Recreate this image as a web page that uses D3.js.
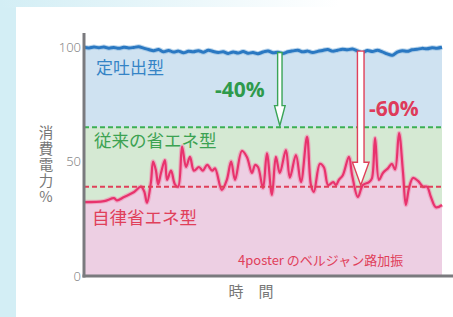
<!DOCTYPE html>
<html>
<head>
<meta charset="utf-8">
<script src="https://cdn.jsdelivr.net/npm/d3@7"></script>
<style>
  body { margin: 0; }
  svg { display: block; }
</style>
</head>
<body>
<svg id="chart" width="453" height="317"></svg>
<script>
// power consumption (%) over time
var blueVals = [99.9, 99.6, 100, 99.7, 100, 99.5, 99.8, 99.4, 99.9, 99.6, 99.8, 100.1, 99.5, 98.9,
                98.4, 98.9, 97.9, 98.5, 97.8, 98.2, 97.5, 98.1, 97.9, 98.4, 97.7, 98.6, 98.0, 97.6,
                97.9, 97.2, 97.8, 97.4, 98.0, 97.3, 97.6, 97.1, 97.8, 98.3, 97.5, 97.7, 97.2, 97.9,
                98.3, 98.6, 97.9, 98.2, 97.6, 98.1, 98.5, 98.9, 98.2, 98.6, 99.0, 98.8, 99.1, 98.3,
                97.6, 98.5, 98.0, 98.6, 97.9, 97.0, 96.4, 97.8, 98.4, 98.1, 98.8, 99.0, 99.4, 99.2,
                99.7, 99.5, 99.9];

var pinkTime = [0, 5.6, 8.4, 9.2, 11.2, 14, 15.9, 16.8, 17.6, 18.7, 19.3, 20.1, 20.7, 21.5, 22.6,
                23.2, 24.3, 25.4, 26.3, 27.4, 28.5, 29.6, 30.7, 32.1, 33.2, 34.4, 35.8, 36.6, 38.5,
                39.9, 41.1, 42.2, 44.1, 45.5, 46.9, 47.8, 48.6, 50, 51.1, 52.5, 53.6, 54.7, 56.4,
                57.5, 59.2, 60.6, 62.3, 63.4, 64.2, 65.9, 67, 68.2, 69.6, 70.4, 71.2, 72.3, 74,
                74.9, 76.5, 77.9, 79.6, 80.4, 81.3, 82.4, 83.5, 84.9, 86, 86.9, 88, 89.1, 89.9,
                90.8, 91.9, 93.3, 94.7, 95.8, 96.9, 98.3, 100];
var pinkVals = [32.3, 32.7, 34, 33, 34.5, 36.7, 39, 37, 32, 41, 50, 46, 40, 45, 50.6,
                42, 46, 40, 39, 56.5, 47.6, 52, 46, 47.6, 46, 48.5, 46, 47, 37.6,
                42, 50, 42, 54.6, 52, 45, 48.5, 47.6, 38.4, 53.6, 35.4, 52, 45, 55,
                43, 52.8, 41, 60.8, 39.7, 36.7, 49, 47.5, 39.7, 41, 39.7, 42, 44, 52,
                44, 34.5, 39.7, 41, 42.5, 60.3, 42, 45, 47, 49, 46.5, 62.4, 45.4, 31,
                38.5, 42.8, 41.5, 39, 39, 34.5, 30, 31];

var levels     = [65, 39];            // conventional / autonomous energy-saving levels
var arrowTimes = [54.7, 77.3];
var arrowTop   = [97.6, 98.2];
var yTicks     = [0, 50, 100];

var svg = d3.select("#chart");
var defs = svg.append("defs");

var grad = defs.append("linearGradient").attr("id", "topfade");
grad.append("stop").attr("offset", "0%").attr("stop-color", "#d3eef5");
grad.append("stop").attr("offset", "75%").attr("stop-color", "#ffffff");

var blur = defs.append("filter").attr("id", "soft");
blur.append("feGaussianBlur").attr("stdDeviation", 0.4);

// page background
svg.append("rect").attr("width", 453).attr("height", 317).attr("fill", "#d3eef5");
svg.append("rect").attr("width", 453).attr("height", 8).attr("fill", "url(#topfade)");
svg.append("rect").attr("x", 16).attr("y", 7).attr("width", 437).attr("height", 310).attr("fill", "#fff");

var x = d3.scaleLinear().domain([0, 100]).range([84, 442]);
var y = d3.scaleLinear().domain([0, 100]).range([276, 47]);
var xi = d3.scaleLinear().domain([0, blueVals.length - 1]).range([0, 100]);

var blue = blueVals.map(function(v, i) { return [xi(i), v]; });
var pink = pinkTime.map(function(t, i) { return [t, pinkVals[i]]; });

var curve = d3.curveCatmullRom.alpha(0.5);
var area = d3.area().curve(curve).x(function(d) { return x(d[0]); }).y0(y(0)).y1(function(d) { return y(d[1]); });
var line = d3.line().curve(curve).x(function(d) { return x(d[0]); }).y(function(d) { return y(d[1]); });

// filled bands
svg.append("path").datum(blue).attr("d", area).attr("fill", "#cfe2f1");
svg.append("rect")
   .attr("x", x(0)).attr("y", y(levels[0]))
   .attr("width", x(100) - x(0)).attr("height", y(0) - y(levels[0]))
   .attr("fill", "#d5e9d3");
svg.append("path").datum(pink).attr("d", area).attr("fill", "#edcfe3");

// lines
svg.append("path").datum(blue).attr("d", line)
   .attr("fill", "none").attr("stroke", "#8fbbe0").attr("stroke-width", 5).attr("opacity", 0.6);
svg.append("path").datum(blue).attr("d", line)
   .attr("fill", "none").attr("stroke", "#2a78c2").attr("stroke-width", 3).attr("filter", "url(#soft)");
svg.append("path").datum(pink).attr("d", line)
   .attr("fill", "none").attr("stroke", "#f08cb0").attr("stroke-width", 4.5).attr("opacity", 0.6);
svg.append("path").datum(pink).attr("d", line)
   .attr("fill", "none").attr("stroke", "#e8336d").attr("stroke-width", 2.2).attr("stroke-linejoin", "round");

// dashed levels
svg.selectAll(".level").data(levels).enter().append("line")
   .attr("x1", x(0)).attr("x2", x(100))
   .attr("y1", function(d) { return y(d); }).attr("y2", function(d) { return y(d); })
   .attr("stroke", function(d, i) { return i == 0 ? "#3cb054" : "#e0405a"; })
   .attr("stroke-width", 2).attr("stroke-dasharray", "5,3");

// arrows
var arrowCol = ["#3aa457", "#e0405a"];
var shaftW = [2.2, 3.3], headW = [5.3, 8.3], headH = [20, 23];
arrowTimes.forEach(function(t, i) {
    var cx = x(t), y0 = y(arrowTop[i]), y1 = y(levels[i]) - 1.5, hy = y1 - headH[i];
    var p = [[cx - shaftW[i], y0], [cx + shaftW[i], y0], [cx + shaftW[i], hy], [cx + headW[i], hy],
             [cx, y1], [cx - headW[i], hy], [cx - shaftW[i], hy]];
    svg.append("polygon")
       .attr("points", p.map(function(q) { return q.join(","); }).join(" "))
       .attr("fill", "#fff").attr("stroke", arrowCol[i]).attr("stroke-width", 1.4);
});

// axes
svg.append("line").attr("x1", x(0)).attr("x2", x(0)).attr("y1", 33).attr("y2", 277.5)
   .attr("stroke", "#7a7a7e").attr("stroke-width", 3);
svg.append("line").attr("x1", x(0) - 1.5).attr("x2", 453).attr("y1", y(0)).attr("y2", y(0))
   .attr("stroke", "#7a7a7e").attr("stroke-width", 3);

svg.selectAll(".tick").data(yTicks).enter().append("text")
   .attr("x", 81).attr("y", function(d) { return y(d) + 4.5; })
   .attr("text-anchor", "end")
   .attr("font-family", "Noto Sans, sans-serif").attr("font-size", 13).attr("font-weight", 300)
   .attr("fill", "#888").text(function(d) { return d; });

var jp = "Noto Sans CJK JP, sans-serif";

// axis titles
svg.append("text").attr("x", 251).attr("y", 297).attr("text-anchor", "middle")
   .attr("font-family", jp).attr("font-size", 15).attr("fill", "#777").text("時　間");
svg.append("text").attr("x", 46).attr("y", 125)
   .style("writing-mode", "vertical-rl").style("text-orientation", "upright")
   .attr("letter-spacing", 1.5)
   .attr("font-family", jp).attr("font-size", 14.5).attr("fill", "#777").text("消費電力%");

// series labels
svg.append("text").attr("x", 96).attr("y", 74).attr("font-family", jp).attr("font-size", 17)
   .attr("fill", "#3584c6").text("定吐出型");
svg.append("text").attr("x", 94).attr("y", 147).attr("font-family", jp).attr("font-size", 17.5)
   .attr("fill", "#3ca252").text("従来の省エネ型");
svg.append("text").attr("x", 92).attr("y", 224).attr("font-family", jp).attr("font-size", 17.5)
   .attr("fill", "#e0405a").text("自律省エネ型");
svg.append("text").attr("x", 238).attr("y", 265).attr("font-family", jp).attr("font-size", 13)
   .attr("fill", "#e0405a").text("4poster のベルジャン路加振");

svg.append("text").attr("x", 215).attr("y", 97).attr("font-family", "Open Sans, sans-serif")
   .attr("font-size", 21).attr("font-weight", 700).attr("fill", "#2e9a4c").text("-40%");
svg.append("text").attr("x", 369).attr("y", 116).attr("font-family", "Open Sans, sans-serif")
   .attr("font-size", 21).attr("font-weight", 700).attr("fill", "#de3b5a").text("-60%");
</script>
</body>
</html>
